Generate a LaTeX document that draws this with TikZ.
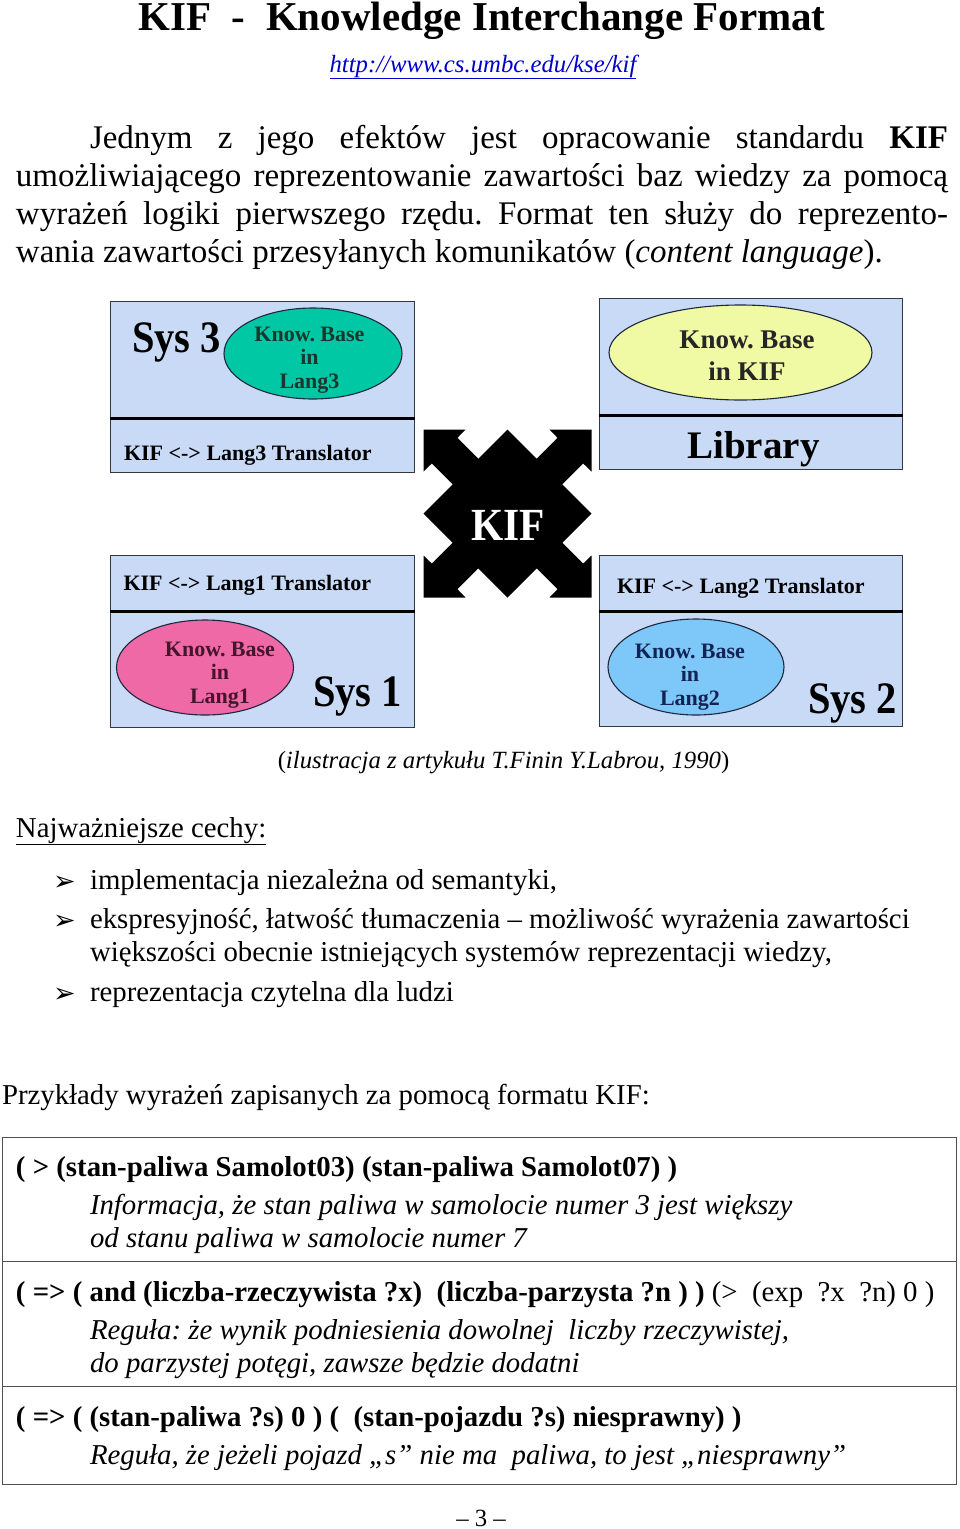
\documentclass[tikz,border=0pt]{standalone}
\usepackage{fontspec}
\setmainfont{Liberation Serif}
\newfontfamily\figfont{Liberation Serif}[FakeStretch=0.9]
\newfontfamily\dingfont{DejaVu Sans}
\usetikzlibrary{shapes.geometric}
\definecolor{boxblue}{RGB}{200,218,245}
\definecolor{boxedge}{RGB}{50,55,65}
\definecolor{kbedge}{RGB}{30,40,60}
\definecolor{kbteal}{RGB}{0,200,165}
\definecolor{kbyellow}{RGB}{240,250,165}
\definecolor{kbpink}{RGB}{238,105,165}
\definecolor{kbsky}{RGB}{125,200,248}
\definecolor{urlblue}{RGB}{0,0,205}
\definecolor{exedge}{RGB}{80,80,80}
\definecolor{txtgreen}{RGB}{25,55,45}
\definecolor{txtmaroon}{RGB}{70,20,45}
\definecolor{txtnavy}{RGB}{20,35,85}
\newcommand\bodyfont{\fontsize{33}{38}\selectfont}
\newcommand\smallfont{\fontsize{28.8}{33}\selectfont}
\newcommand\tinyfont{\fontsize{24.75}{28}\selectfont}
\newcommand\kbfont{\bfseries\fontsize{22}{23.5}\selectfont}
\newcommand\trfont{\bfseries\fontsize{22}{24}\selectfont}
\newcommand\sysfont{\figfont\bfseries\fontsize{45}{48}\selectfont}
\frenchspacing
\begin{document}
\begin{tikzpicture}[x=1pt,y=-1pt,
  txt/.style={inner sep=0pt, outer sep=0pt, anchor=base west},
  ctxt/.style={inner sep=0pt, outer sep=0pt, anchor=base},
  part/.style={draw=boxedge, line width=1.2pt, fill=boxblue, inner sep=0pt, anchor=north west},
  divline/.style={line width=2.6pt, black},
  kb/.style={ellipse, draw=kbedge, line width=1.1pt, inner sep=0pt},
  kbtext/.style={align=center, inner sep=0pt, font=\kbfont},
  exrow/.style={draw=exedge, line width=1.2pt, inner sep=0pt, anchor=north west, minimum width=954pt},
  bul/.style={inner sep=0pt, outer sep=0pt, anchor=base west, font=\dingfont\fontsize{27}{28}\selectfont}
]
\fill[white] (0,0) rectangle (960,1529);
\useasboundingbox (0,0) rectangle (960,1529);

% ---------- header ----------
\node[ctxt, font=\bfseries\fontsize{41}{47}\selectfont] (title) at (482,30) {KIF\ \ -\ \ Knowledge Interchange Format};
\node[ctxt, font=\tinyfont\itshape, text=urlblue] (url) at (483,72) {\underline{http://www.cs.umbc.edu/kse/kif}};

\node[txt, font=\bodyfont] (p1) at (90,148) {\makebox[858pt][s]{Jednym z jego efektów jest opracowanie standardu \textbf{KIF}}};
\node[txt, font=\bodyfont] (p2) at (16,186) {\makebox[932pt][s]{umożliwiającego reprezentowanie zawartości baz wiedzy za pomocą}};
\node[txt, font=\bodyfont] (p3) at (16,224) {\makebox[932pt][s]{wyrażeń logiki pierwszego rzędu. Format ten służy do reprezento-}};
\node[txt, font=\bodyfont] (p4) at (16,262) {wania zawartości przesyłanych komunikatów (\textit{content language}).};

% ---------- figure ----------
% Sys 3
\node[part, minimum width=304pt, minimum height=116pt] (s3top) at (109.5,301) {};
\node[part, minimum width=304pt, minimum height=54.5pt] (s3bot) at (109.5,417) {};
\draw[divline] (s3top.south west) -- (s3top.south east);
\node[kb, fill=kbteal, minimum width=178pt, minimum height=91pt] (kb3) at (313,353.5) {};
\node[kbtext, text=txtgreen] (kb3t) at (309.5,360) {Know. Base\\in\\Lang3};
\node[txt, font=\sysfont] (sys3) at (132,352) {Sys 3};
\node[txt, font=\trfont] (tr3) at (124,460) {KIF <-> Lang3 Translator};

% Library
\node[part, minimum width=303.5pt, minimum height=116pt] (libtop) at (598.5,298) {};
\node[part, minimum width=303.5pt, minimum height=55pt] (libbot) at (598.5,414) {};
\draw[divline] (libtop.south west) -- (libtop.south east);
\node[kb, fill=kbyellow, minimum width=263pt, minimum height=95pt] (kbk) at (740.5,352.5) {};
\node[align=center, inner sep=0pt, font=\bfseries\fontsize{27}{32}\selectfont, text=black!85] (kbkt) at (747,356) {Know. Base\\in KIF};
\node[ctxt, font=\bfseries\fontsize{39}{44}\selectfont] (lib) at (753.5,458) {Library};

% Sys 1
\node[part, minimum width=304pt, minimum height=55.5pt] (s1top) at (109.5,555) {};
\node[part, minimum width=304pt, minimum height=116.5pt] (s1bot) at (109.5,610.5) {};
\draw[divline] (s1top.south west) -- (s1top.south east);
\node[kb, fill=kbpink, minimum width=177pt, minimum height=95pt] (kb1) at (205,667.5) {};
\node[kbtext, text=txtmaroon] (kb1t) at (220,675) {Know. Base\\in\\Lang1};
\node[txt, font=\sysfont] (sys1) at (313,706.5) {Sys 1};
\node[txt, font=\trfont] (tr1) at (123.5,590) {KIF <-> Lang1 Translator};

% Sys 2
\node[part, minimum width=303.5pt, minimum height=55.5pt] (s2top) at (598.5,555) {};
\node[part, minimum width=303.5pt, minimum height=115.5pt] (s2bot) at (598.5,610.5) {};
\draw[divline] (s2top.south west) -- (s2top.south east);
\node[kb, fill=kbsky, minimum width=176pt, minimum height=96pt] (kb2) at (696,667) {};
\node[kbtext, text=txtnavy] (kb2t) at (690,677) {Know. Base\\in\\Lang2};
\node[txt, font=\sysfont] (sys2) at (808,713) {Sys 2};
\node[txt, font=\trfont] (tr2) at (617,593) {KIF <-> Lang2 Translator};

% KIF star
\begin{scope}[shift={(507.5,513.5)}]
\fill[black] (-84,0) -- (-54.85,-29.15) -- (-75.7,-50) -- (-84,-42) -- (-84,-84) -- (-42,-84) -- (-50,-75.7) -- (-29.15,-54.85) -- (0,-84)
 -- (29.15,-54.85) -- (50,-75.7) -- (42,-84) -- (84,-84) -- (84,-42) -- (75.7,-50) -- (54.85,-29.15) -- (84,0)
 -- (54.85,29.15) -- (75.7,50) -- (84,42) -- (84,84) -- (42,84) -- (50,75.7) -- (29.15,54.85) -- (0,84)
 -- (-29.15,54.85) -- (-50,75.7) -- (-42,84) -- (-84,84) -- (-84,42) -- (-75.7,50) -- (-54.85,29.15) -- cycle;
\end{scope}
\node[ctxt, font=\figfont\bfseries\fontsize{46}{50}\selectfont, text=white] (kif) at (508,540) {KIF};

\node[ctxt, font=\tinyfont] (cap) at (503.5,768) {(\textit{ilustracja z artykułu T.Finin Y.Labrou, 1990})};

% ---------- features ----------
\node[txt, font=\smallfont] (feat) at (16,837) {\underline{Najważniejsze cechy:}};
\node[bul] (b1) at (53,890) {➢};
\node[bul] (b2) at (53,929) {➢};
\node[bul] (b3) at (53,1002) {➢};
\node[txt, font=\smallfont] (l1) at (90,889) {implementacja niezależna od semantyki,};
\node[txt, font=\smallfont] (l2) at (90,928) {ekspresyjność, łatwość tłumaczenia – możliwość wyrażenia zawartości};
\node[txt, font=\smallfont] (l3) at (90,961) {większości obecnie istniejących systemów reprezentacji wiedzy,};
\node[txt, font=\smallfont] (l4) at (90,1001) {reprezentacja czytelna dla ludzi};

\node[txt, font=\smallfont] (ex) at (2,1104) {Przykłady wyrażeń zapisanych za pomocą formatu KIF:};

% ---------- examples box ----------
\node[exrow, minimum height=124pt] (row1) at (2,1137) {};
\node[exrow, minimum height=125pt] (row2) at (2,1261) {};
\node[exrow, minimum height=98pt] (row3) at (2,1386) {};

\node[txt, font=\smallfont\bfseries] (r1b) at (16,1176) {( > (stan-paliwa Samolot03) (stan-paliwa Samolot07) )};
\node[txt, font=\smallfont\itshape] (r1i) at (90,1214) {Informacja, że stan paliwa w samolocie numer 3 jest większy};
\node[txt, font=\smallfont\itshape] (r1j) at (90,1247) {od stanu paliwa w samolocie numer 7};

\node[txt, font=\smallfont\bfseries] (r2b) at (16,1301) {( => ( and (liczba-rzeczywista ?x)\ \ (liczba-parzysta ?n ) ) {\mdseries(>\ \ (exp\ \ ?x\ \ ?n) 0 )}};
\node[txt, font=\smallfont\itshape] (r2i) at (90,1339) {Reguła: że wynik podniesienia dowolnej\ \ liczby rzeczywistej,};
\node[txt, font=\smallfont\itshape] (r2j) at (90,1372) {do parzystej potęgi, zawsze będzie dodatni};

\node[txt, font=\smallfont\bfseries] (r3b) at (16,1426) {( => ( (stan-paliwa ?s) 0 ) (\ \ (stan-pojazdu ?s) niesprawny) )};
\node[txt, font=\smallfont\itshape] (r3i) at (90,1464) {Reguła, że jeżeli pojazd „s” nie ma\ \ paliwa, to jest „niesprawny”};

\node[ctxt, font=\tinyfont] (pg) at (481,1526) {– 3 –};
\end{tikzpicture}
\end{document}
